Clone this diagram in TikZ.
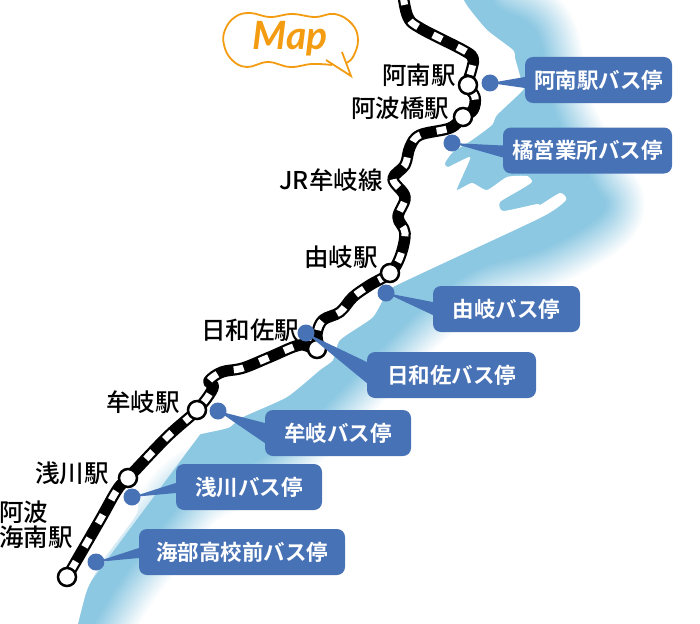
\documentclass[tikz,border=0pt]{standalone}
\usepackage{fontspec}
\setmainfont{Noto Sans CJK JP Medium}
\newfontfamily\boldjp{Noto Sans CJK JP Bold}
\newfontfamily\mapfont{Lato}
\definecolor{seablue}{HTML}{8CC8E2}
\definecolor{stopblue}{HTML}{4872B6}
\definecolor{maporange}{HTML}{F39C12}

% paths that are used more than once
\newcommand{\seaedge}{(480,-20) (497,7) (537,33) (555,113) (593,183) (603,212) (545,248) (475,270) (420,310) (370,360) (310,420) (262,458) (200,485) (167,520) (123,577) (98,617) (80,650)}
\newcommand{\railline}{(403,-5) (408,17) (420,28) (463,50) (473,58) (472,68) (p-anan) (475,97) (473,110) (p-hashi) (450,128) (420,135) (410,147) (405,165) (393,179) (405,197) (398,217) (405,233) (400,257) (p-yuki) (370,285) (353,297) (340,312) (323,320) (317,333) (p-hiwasa) (300,345) (270,357) (243,368) (222,372) (209,381) (213,388) (p-mugi) (167,437) (p-asakawa) (117,490) (100,520) (p-kainan)}

\begin{document}
\begin{tikzpicture}[
  x=1pt, y=-1pt,
  font=\fontsize{24.5}{26}\selectfont,
  every node/.style={inner sep=0pt, align=center},
  station/.style={circle, draw=black, fill=white, line width=2.5pt, minimum size=18pt},
  stationname/.style={black},
  stopdot/.style={circle, fill=stopblue, minimum size=17pt},
  stopbox/.style={rounded corners=8pt, fill=stopblue, text=white, minimum height=46pt,
    font=\fontsize{21.5}{23}\selectfont\boldjp},
  stoptail/.style={fill=stopblue},
  railbase/.style={line width=11.5pt, black, line join=round},
  raildash/.style={line width=7pt, white, dash pattern=on 10pt off 17pt}]

  \useasboundingbox (0,0) rectangle (700,623);

  % Sea with a soft outer edge
  \foreach \w [evaluate=\w as \c using 100-100*\w/80] in {80,78,...,2}
    \draw[line width=\w pt, seablue!\c!white, line join=round]
      plot[smooth, tension=0.6] coordinates {\seaedge};
  \fill[seablue] (461,-25) -- plot[smooth, tension=0.6] coordinates {\seaedge} -- (40,650) -- (300,300) -- cycle;

  % Land, its edge is the sharp coast
  \fill[white] (-5,-5) -- plot[smooth, tension=0.35] coordinates {(461,-5) (468,7) (487,30) (513,50) (515,58) (522,83) (523,90)
    (497,115) (492,125) (472,140) (453,152) (445,163) (448,167) (470,157)
    (463,175) (457,190) (472,183) (487,190) (507,177) (527,176) (532,182)
    (520,190) (500,202) (503,211) (537,204) (540,205) (560,193) (566,200)
    (540,218) (393,287) (383,300) (372,318) (340,340) (333,360) (320,370)
    (287,397) (243,417) (230,427) (220,430) (190,437) (173,452) (138,483)
    (137,513) (103,560) (87,590) (77,628)} -- (-5,628) -- cycle;

  % Position of the stations on the line
  \coordinate (p-anan) at (468,85);
  \coordinate (p-hashi) at (463,117);
  \coordinate (p-yuki) at (390,273);
  \coordinate (p-hiwasa) at (317,349);
  \coordinate (p-mugi) at (197,410);
  \coordinate (p-asakawa) at (128,478);
  \coordinate (p-kainan) at (67,577);

  % The railway
  \draw[railbase] plot[smooth, tension=0.6] coordinates {\railline};
  \draw[raildash] plot[smooth, tension=0.6] coordinates {\railline};

  \node[station] (anan) at (p-anan) {};
  \node[station] (hashi) at (p-hashi) {};
  \node[station] (yuki) at (p-yuki) {};
  \node[station] (hiwasa) at (p-hiwasa) {};
  \node[station] (mugi) at (p-mugi) {};
  \node[station] (asakawa) at (p-asakawa) {};
  \node[station] (kainan) at (p-kainan) {};

  % Names of the stations
  \node[stationname] (anan-name) at (419,75) {阿南駅};
  \node[stationname] (hashi-name) at (400,108) {阿波橋駅};
  \node[stationname] (line-name) at (331,180) {JR牟岐線};
  \node[stationname] (yuki-name) at (341,257) {由岐駅};
  \node[stationname] (hiwasa-name) at (250,330) {日和佐駅};
  \node[stationname] (mugi-name) at (143,402) {牟岐駅};
  \node[stationname] (asakawa-name) at (72,473) {浅川駅};
  \node[stationname, align=left, anchor=west] (kainan-name) at (-1,525) {阿波\\[-1pt]海南駅};

  % Bus stops
  \node[stopdot] (anan-dot) at (490,83) {};
  \node[stopdot] (hashi-dot) at (452,143) {};
  \node[stopdot] (yuki-dot) at (386,293) {};
  \node[stopdot] (hiwasa-dot) at (306,333) {};
  \node[stopdot] (mugi-dot) at (218,411) {};
  \node[stopdot] (asakawa-dot) at (132,497) {};
  \node[stopdot] (kainan-dot) at (96,562) {};

  \node[stopbox, minimum width=147pt] (anan-box) at (598.5,80) {阿南駅バス停};
  \node[stopbox, minimum width=169pt] (hashi-box) at (587.5,150.5) {橘営業所バス停};
  \node[stopbox, minimum width=147pt] (yuki-box) at (506.5,309) {由岐バス停};
  \node[stopbox, minimum width=169pt] (hiwasa-box) at (451.5,375) {日和佐バス停};
  \node[stopbox, minimum width=146pt] (mugi-box) at (338,433) {牟岐バス停};
  \node[stopbox, minimum width=146pt] (asakawa-box) at (249,487) {浅川バス停};
  \node[stopbox, minimum width=206pt] (kainan-box) at (242,552) {海部高校前バス停};

  \fill[stoptail] (anan-dot.center) -- ([yshift=3pt]anan-box.west) -- ([yshift=-8pt]anan-box.west) -- cycle;
  \fill[stoptail] (hashi-dot.center) -- ([yshift=5pt]hashi-box.west) -- ([yshift=-7pt]hashi-box.west) -- cycle;
  \fill[stoptail] (yuki-dot.center) -- ([yshift=7pt]yuki-box.west) -- ([yshift=-6pt]yuki-box.west) -- cycle;
  \fill[stoptail] (hiwasa-dot.center) -- ([yshift=13pt]hiwasa-box.west) -- ([yshift=-8pt]hiwasa-box.west) -- cycle;
  \fill[stoptail] (mugi-dot.center) -- ([yshift=10pt]mugi-box.west) -- ([yshift=-10pt]mugi-box.west) -- cycle;
  \fill[stoptail] (asakawa-dot.center) -- ([yshift=4pt]asakawa-box.west) -- ([yshift=-6pt]asakawa-box.west) -- cycle;
  \fill[stoptail] (kainan-dot.center) -- ([yshift=4pt]kainan-box.west) -- ([yshift=-6pt]kainan-box.west) -- cycle;

  % Map bubble
  \draw[maporange, line width=1.8pt] plot[smooth, tension=0.7] coordinates {(346,63) (353,57) (358,40) (352,24) (335,14) (315,17) (292,14) (270,17) (250,13) (235,17) (225,30) (224,45) (232,60) (247,67) (268,62) (290,67) (312,64) (332,65)};
  \draw[maporange, line width=1.8pt] (326,60) -- (351,76) -- (342,52);
  \node[text=maporange, font=\fontsize{39}{42}\selectfont\mapfont\bfseries\itshape] (map-name) at (290,39) {Map};
\end{tikzpicture}
\end{document}
